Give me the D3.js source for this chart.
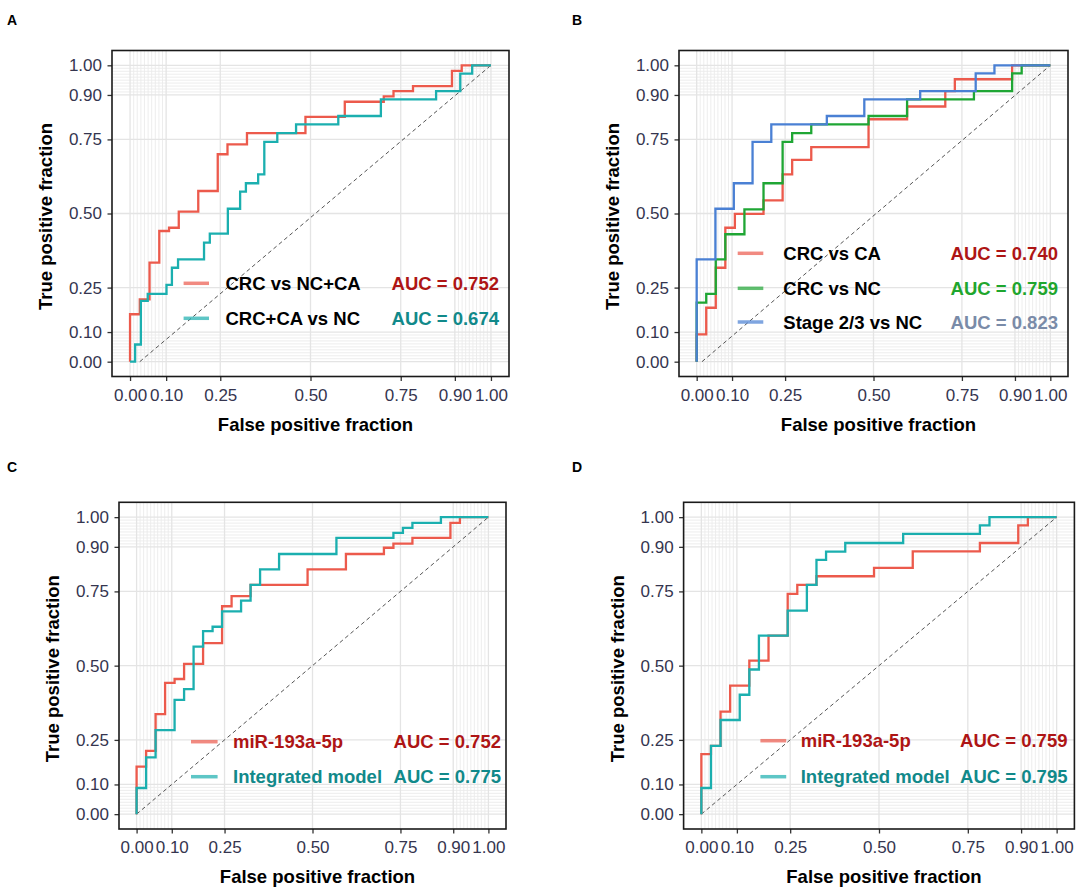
<!DOCTYPE html>
<html>
<head>
<meta charset="utf-8">
<script src="https://cdn.jsdelivr.net/npm/d3@7"></script>
<style>
  body { margin: 0; background: #fff; }
  svg { font-family: "Liberation Sans", Arial, sans-serif; }
</style>
</head>
<body>
<div id="chart-area"></div>
<script>
var width = 1084;
var height = 889;

// axis breaks (plotROC style)
var tickValues = [0, 0.1, 0.25, 0.5, 0.75, 0.9, 1];
var tickLabels = ["0.00", "0.10", "0.25", "0.50", "0.75", "0.90", "1.00"];
var minorBreaks = d3.range(0.01, 0.095, 0.01).concat(d3.range(0.91, 0.995, 0.01));

// A: CRC vs NC+CA / CRC+CA vs NC
var fprA_crcVsNcCa = [0, 0, 0.027, 0.054, 0.081, 0.108, 0.135, 0.189, 0.243, 0.270, 0.324, 0.486, 0.595, 0.703, 0.730, 0.784, 0.892, 0.919, 1];
var tprA_crcVsNcCa = [0, 0.160, 0.210, 0.334, 0.441, 0.452, 0.506, 0.576, 0.700, 0.733, 0.771, 0.826, 0.877, 0.895, 0.913, 0.930, 0.981, 1, 1];
var fprA_crcCaVsNc = [0, 0.014, 0.030, 0.049, 0.101, 0.116, 0.133, 0.205, 0.221, 0.271, 0.305, 0.321, 0.355, 0.372, 0.408, 0.460, 0.577, 0.695, 0.848, 0.915, 0.948, 1];
var tprA_crcCaVsNc = [0, 0.058, 0.205, 0.229, 0.259, 0.317, 0.345, 0.402, 0.432, 0.516, 0.574, 0.602, 0.632, 0.742, 0.771, 0.801, 0.829, 0.885, 0.913, 0.972, 1, 1];

// B: CRC vs CA / CRC vs NC / Stage 2/3 vs NC
var fprB_crcVsCa = [0, 0, 0.027, 0.054, 0.081, 0.108, 0.189, 0.243, 0.270, 0.324, 0.486, 0.595, 0.703, 0.730, 0.892, 1];
var tprB_crcVsCa = [0, 0.092, 0.182, 0.317, 0.452, 0.499, 0.544, 0.632, 0.681, 0.724, 0.818, 0.861, 0.913, 0.953, 1, 1];
var fprB_crcVsNc = [0, 0, 0.027, 0.054, 0.081, 0.135, 0.189, 0.243, 0.270, 0.324, 0.486, 0.595, 0.784, 0.892, 0.919, 1];
var tprB_crcVsNc = [0, 0.199, 0.229, 0.345, 0.430, 0.514, 0.602, 0.742, 0.771, 0.801, 0.829, 0.885, 0.913, 0.973, 1, 1];
var fprB_stage23VsNc = [0, 0, 0.053, 0.105, 0.158, 0.211, 0.368, 0.474, 0.632, 0.789, 0.842, 1];
var tprB_stage23VsNc = [0, 0.345, 0.516, 0.602, 0.742, 0.801, 0.829, 0.885, 0.913, 0.973, 1, 1];

// C: miR-193a-5p / integrated model
var fprC_mir = [0, 0, 0.027, 0.054, 0.081, 0.108, 0.135, 0.189, 0.243, 0.270, 0.324, 0.486, 0.595, 0.703, 0.730, 0.784, 0.892, 0.919, 1];
var tprC_mir = [0, 0.160, 0.213, 0.337, 0.442, 0.455, 0.506, 0.576, 0.700, 0.734, 0.772, 0.824, 0.876, 0.897, 0.911, 0.930, 0.981, 1, 1];
var fprC_integrated = [0, 0, 0.027, 0.054, 0.108, 0.135, 0.162, 0.189, 0.216, 0.243, 0.297, 0.324, 0.351, 0.405, 0.568, 0.730, 0.757, 0.784, 0.865, 1];
var tprC_integrated = [0, 0.088, 0.191, 0.283, 0.385, 0.421, 0.564, 0.616, 0.631, 0.683, 0.719, 0.772, 0.824, 0.876, 0.930, 0.947, 0.964, 0.981, 1, 1];

// D: miR-193a-5p / integrated model
var fprD_mir = [0, 0, 0.027, 0.054, 0.081, 0.135, 0.189, 0.243, 0.270, 0.324, 0.486, 0.595, 0.784, 0.892, 0.919, 1];
var tprD_mir = [0, 0.202, 0.230, 0.345, 0.433, 0.517, 0.601, 0.742, 0.772, 0.801, 0.829, 0.885, 0.913, 0.972, 1, 1];
var fprD_integrated = [0, 0, 0.027, 0.054, 0.108, 0.135, 0.162, 0.243, 0.297, 0.324, 0.351, 0.405, 0.568, 0.784, 0.811, 1];
var tprD_integrated = [0, 0.088, 0.230, 0.317, 0.402, 0.487, 0.601, 0.685, 0.772, 0.856, 0.884, 0.913, 0.944, 0.972, 1, 1];

var panelLetters = ["A", "B", "C", "D"];
var seriesLabels = [
    ["CRC vs NC+CA", "CRC+CA vs NC"],
    ["CRC vs CA", "CRC vs NC", "Stage 2/3 vs NC"],
    ["miR-193a-5p", "Integrated model"],
    ["miR-193a-5p", "Integrated model"]
];
var aucLabels = [
    ["AUC = 0.752", "AUC = 0.674"],
    ["AUC = 0.740", "AUC = 0.759", "AUC = 0.823"],
    ["AUC = 0.752", "AUC = 0.775"],
    ["AUC = 0.759", "AUC = 0.795"]
];
var diagonalStart = [0.027, 0.015, 0, 0];

// colours
var RED = "#EC5A4C", TEAL = "#1BAFAF", GREEN = "#1FA634", BLUE = "#4A80D4";
var RED_T = "#AE1515", TEAL_T = "#11898A", GREEN_T = "#1FA62E", BLUE_T = "#7A8BA8";

var panels = [
    { box: [112, 50.5, 509, 376.5], letterPos: [7, 25],
      fpr: [fprA_crcVsNcCa, fprA_crcCaVsNc], tpr: [tprA_crcVsNcCa, tprA_crcCaVsNc],
      line: [RED, TEAL], aucColor: [RED_T, TEAL_T], labelColor: ["#000", "#000"],
      leg: { sw: [71.6, 97], text: 113.5, aucEnd: 387, rows: [232.8, 267.8] } },
    { box: [679, 50.5, 1068, 376.5], letterPos: [572, 25],
      fpr: [fprB_crcVsCa, fprB_crcVsNc, fprB_stage23VsNc], tpr: [tprB_crcVsCa, tprB_crcVsNc, tprB_stage23VsNc],
      line: [RED, GREEN, BLUE], aucColor: [RED_T, GREEN_T, BLUE_T], labelColor: ["#000", "#000", "#000"],
      leg: { sw: [58.7, 84.3], text: 104.3, aucEnd: 379, rows: [202.8, 237.8, 271.5] } },
    { box: [119, 502.3, 506, 829], letterPos: [7, 472],
      fpr: [fprC_mir, fprC_integrated], tpr: [tprC_mir, tprC_integrated],
      line: [RED, TEAL], aucColor: [RED_T, TEAL_T], labelColor: [RED_T, TEAL_T],
      leg: { sw: [72, 98.6], text: 114, aucEnd: 382, rows: [239.4, 274.4] } },
    { box: [683.6, 502.3, 1074.4, 829], letterPos: [572, 472],
      fpr: [fprD_mir, fprD_integrated], tpr: [tprD_mir, tprD_integrated],
      line: [RED, TEAL], aucColor: [RED_T, TEAL_T], labelColor: [RED_T, TEAL_T],
      leg: { sw: [76.8, 102.6], text: 117.1, aucEnd: 383.9, rows: [238.4, 274.4] } }
];

var svg = d3.select("#chart-area").append("svg")
    .attr("width", width)
    .attr("height", height);

svg.append("rect")
    .attr("width", width)
    .attr("height", height)
    .attr("fill", "white");

panels.forEach((p, pi) => {
    var w = p.box[2] - p.box[0];
    var h = p.box[3] - p.box[1];
    var x = d3.scaleLinear().domain([-0.05, 1.05]).range([0, w]);
    var y = d3.scaleLinear().domain([-0.05, 1.05]).range([h, 0]);

    svg.append("text")
        .attr("x", p.letterPos[0])
        .attr("y", p.letterPos[1])
        .attr("font-size", 14)
        .attr("font-weight", "bold")
        .text(panelLetters[pi]);

    var g = svg.append("g").attr("transform", `translate(${p.box[0]},${p.box[1]})`);

    // grid
    var grid = g.append("g");
    minorBreaks.forEach((v) => {
        grid.append("line").attr("x1", x(v)).attr("x2", x(v)).attr("y1", 0).attr("y2", h)
            .attr("stroke", "#EBEBEB").attr("stroke-width", 0.9);
        grid.append("line").attr("y1", y(v)).attr("y2", y(v)).attr("x1", 0).attr("x2", w)
            .attr("stroke", "#EBEBEB").attr("stroke-width", 0.9);
    });
    tickValues.forEach((v) => {
        grid.append("line").attr("x1", x(v)).attr("x2", x(v)).attr("y1", 0).attr("y2", h)
            .attr("stroke", "#E4E4E4").attr("stroke-width", 1.3);
        grid.append("line").attr("y1", y(v)).attr("y2", y(v)).attr("x1", 0).attr("x2", w)
            .attr("stroke", "#E4E4E4").attr("stroke-width", 1.3);
    });

    // axes
    var xAxis = g.append("g")
        .attr("transform", `translate(0,${h})`)
        .call(d3.axisBottom(x).tickValues(tickValues)
            .tickFormat((d, i) => tickLabels[i]).tickSize(4.5).tickPadding(7.5));
    var yAxis = g.append("g")
        .call(d3.axisLeft(y).tickValues(tickValues)
            .tickFormat((d, i) => tickLabels[i]).tickSize(4.5).tickPadding(5.5));
    [xAxis, yAxis].forEach((a) => {
        a.select(".domain").remove();
        a.selectAll(".tick line").attr("stroke", "#333").attr("stroke-width", 1.3);
        a.selectAll(".tick text")
            .attr("fill", "#35354F")
            .attr("font-size", 17)
            .attr("font-family", "Liberation Sans, Arial, sans-serif");
    });

    // chance line
    g.append("line")
        .attr("x1", x(diagonalStart[pi])).attr("y1", y(0))
        .attr("x2", x(1)).attr("y2", y(1))
        .attr("stroke", "#555")
        .attr("stroke-width", 1)
        .attr("stroke-dasharray", "4,3");

    // ROC curves
    var line = d3.line()
        .x((d) => x(d[0]))
        .y((d) => y(d[1]))
        .curve(d3.curveStepAfter);

    p.fpr.forEach((fpr, si) => {
        var pts = fpr.map((f, k) => [f, p.tpr[si][k]]);
        g.append("path")
            .datum(pts)
            .attr("d", line)
            .attr("fill", "none")
            .attr("stroke", p.line[si])
            .attr("stroke-width", 2.3);
    });

    // legend
    p.leg.rows.forEach((ry, si) => {
        g.append("line")
            .attr("x1", p.leg.sw[0]).attr("x2", p.leg.sw[1])
            .attr("y1", ry).attr("y2", ry)
            .attr("stroke", p.line[si])
            .attr("stroke-width", 3.5)
            .attr("opacity", 0.7);
        g.append("text")
            .attr("x", p.leg.text).attr("y", ry)
            .attr("dy", "0.36em")
            .attr("font-size", 18.5)
            .attr("font-weight", "bold")
            .attr("fill", p.labelColor[si])
            .text(seriesLabels[pi][si]);
        g.append("text")
            .attr("x", p.leg.aucEnd).attr("y", ry)
            .attr("dy", "0.36em")
            .attr("text-anchor", "end")
            .attr("font-size", 18.5)
            .attr("font-weight", "bold")
            .attr("fill", p.aucColor[si])
            .text(aucLabels[pi][si]);
    });

    // panel border
    g.append("rect")
        .attr("width", w).attr("height", h)
        .attr("fill", "none")
        .attr("stroke", "#1A1A1A")
        .attr("stroke-width", 1.6);

    // axis titles
    g.append("text")
        .attr("x", w / 2 + 5).attr("y", h + 54)
        .attr("text-anchor", "middle")
        .attr("font-size", 18.5)
        .attr("font-weight", "bold")
        .text("False positive fraction");
    g.append("text")
        .attr("transform", `translate(-66,${h / 2 + 3}) rotate(-90)`)
        .attr("dy", "0.35em")
        .attr("text-anchor", "middle")
        .attr("font-size", 18.5)
        .attr("font-weight", "bold")
        .text("True positive fraction");
});
</script>
</body>
</html>
